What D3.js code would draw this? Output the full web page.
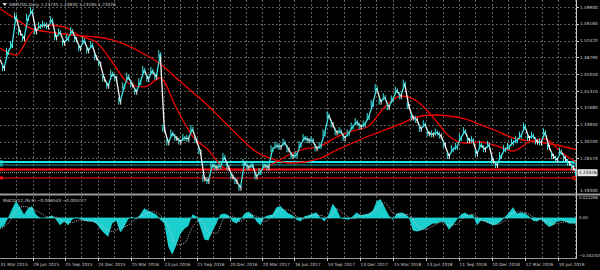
<!DOCTYPE html>
<html>
<head>
<meta charset="utf-8">
<script src="https://cdn.jsdelivr.net/npm/d3@7"></script>
<style>
  html, body { margin: 0; padding: 0; background: #000; }
  svg { display: block; }
  text { font-family: "DejaVu Sans", sans-serif; }
</style>
</head>
<body>
<div id="container"></div>
<script>
// first / last bar of the visible window
const startDate = Date.UTC(2015, 2, 31),
  endDate = Date.UTC(2019, 6, 29)

// closes, one every 11 days
const closes = [
  1.483, 1.464, 1.500, 1.515, 1.578, 1.543, 1.530, 1.575, 1.590, 1.545,
  1.557, 1.560, 1.556, 1.570, 1.532, 1.543, 1.520, 1.530, 1.546, 1.528,
  1.508, 1.525, 1.503, 1.515, 1.488, 1.474, 1.441, 1.425, 1.452, 1.442,
  1.390, 1.424, 1.445, 1.428, 1.412, 1.433, 1.460, 1.440, 1.458, 1.445,
  1.495, 1.330, 1.300, 1.320, 1.310, 1.302, 1.310, 1.308, 1.330, 1.305,
  1.280, 1.220, 1.215, 1.250, 1.245, 1.247, 1.268, 1.245, 1.225, 1.215,
  1.200, 1.255, 1.245, 1.250, 1.225, 1.235, 1.250, 1.245, 1.285, 1.293,
  1.290, 1.300, 1.285, 1.270, 1.272, 1.295, 1.310, 1.305, 1.305, 1.287,
  1.292, 1.320, 1.360, 1.340, 1.322, 1.325, 1.310, 1.320, 1.335, 1.345,
  1.335, 1.340, 1.356, 1.385, 1.420, 1.390, 1.400, 1.378, 1.395, 1.415,
  1.402, 1.430, 1.380, 1.355, 1.350, 1.330, 1.340, 1.320, 1.318, 1.322,
  1.315, 1.295, 1.270, 1.285, 1.290, 1.310, 1.325, 1.305, 1.305, 1.275,
  1.295, 1.285, 1.295, 1.260, 1.250, 1.270, 1.285, 1.290, 1.300, 1.305,
  1.315, 1.335, 1.310, 1.315, 1.302, 1.300, 1.322, 1.290, 1.270, 1.262,
  1.280, 1.265, 1.255, 1.245, 1.233
]

// moving averages, one every 44 days
const fastMA = [
  1.5085, 1.4931, 1.5439, 1.5593, 1.5549, 1.5350, 1.5218, 1.4776, 1.4313, 1.4225,
  1.4423, 1.3761, 1.3143, 1.2834, 1.2436, 1.2392, 1.2392, 1.2525, 1.2723, 1.2856,
  1.2922, 1.3121, 1.3253, 1.3364, 1.3783, 1.4026, 1.3915, 1.3562, 1.3143, 1.2988,
  1.3010, 1.2922, 1.2812, 1.3010, 1.3077, 1.2790, 1.2547
]
const slowMA = [
  1.5946, 1.5726, 1.5505, 1.5439, 1.5394, 1.5350, 1.5328, 1.5262, 1.5130, 1.4953,
  1.4732, 1.4423, 1.4114, 1.3805, 1.3452, 1.3099, 1.2790, 1.2635, 1.2547, 1.2569,
  1.2657, 1.2834, 1.2988, 1.3143, 1.3275, 1.3408, 1.3562, 1.3606, 1.3584, 1.3518,
  1.3386, 1.3253, 1.3099, 1.3033, 1.2988, 1.2922, 1.2834
]

// horizontal levels drawn on the chart
const levels = [1.2569, 1.2503, 1.2403, 1.2216]

// MACD main line, one every 11 days
const macd = [
  -0.011, -0.009, 0.000, 0.010, 0.019, 0.012, 0.004, 0.011, 0.013, 0.004,
  0.000, 0.000, 0.001, 0.003, -0.002, -0.008, -0.004, -0.008, -0.002, 0.001,
  -0.001, -0.003, -0.004, -0.004, -0.006, -0.012, -0.017, -0.021, -0.006, -0.003,
  -0.016, -0.010, -0.001, 0.001, -0.001, 0.004, 0.011, 0.008, 0.006, 0.004,
  -0.002, -0.006, -0.032, -0.041, -0.030, -0.018, -0.012, -0.009, 0.004, 0.002,
  -0.010, -0.024, -0.025, -0.015, -0.006, 0.004, 0.005, 0.003, -0.004, -0.006,
  -0.002, 0.005, 0.007, 0.004, -0.004, -0.008, 0.001, 0.003, 0.004, 0.012,
  0.013, 0.009, 0.005, 0.003, -0.002, -0.004, 0.002, 0.003, 0.005, 0.006,
  0.000, -0.004, 0.004, 0.016, 0.010, 0.000, -0.001, -0.002, 0.002, 0.006,
  0.003, 0.004, 0.005, 0.008, 0.019, 0.021, 0.012, 0.003, -0.002, 0.005,
  0.006, 0.005, 0.001, -0.014, -0.015, -0.014, -0.012, -0.009, -0.006, -0.006,
  -0.004, -0.005, -0.013, -0.008, -0.002, 0.004, 0.006, 0.003, 0.004, -0.008,
  -0.003, -0.004, -0.006, -0.008, -0.007, -0.004, 0.001, 0.006, 0.012, 0.005,
  0.006, 0.005, 0.002, -0.003, -0.004, -0.001, -0.006, -0.010, -0.008, -0.004,
  -0.003, -0.004, -0.006, -0.006, -0.0065
]
// MACD signal line, one every 22 days
const signal = [
  -0.012, -0.006, 0.008, 0.013, 0.010, 0.006, 0.001, 0.001, -0.004, -0.005,
  -0.002, -0.003, -0.005, -0.011, -0.015, -0.011, -0.008, -0.001, 0.004, 0.007,
  0.003, -0.010, -0.030, -0.028, -0.010, -0.002, -0.016, -0.017, 0.000, 0.002,
  -0.004, 0.003, 0.002, -0.004, 0.002, 0.009, 0.009, 0.002, -0.001, 0.003,
  0.003, 0.000, 0.010, 0.004, -0.001, 0.003, 0.004, 0.010, 0.017, 0.006,
  0.003, 0.004, -0.008, -0.013, -0.009, -0.005, -0.008, -0.007, 0.002, 0.004,
  -0.002, -0.005, -0.007, -0.003, 0.006, 0.007, 0.004, -0.001, -0.003, -0.007,
  -0.005, -0.004, -0.0057
]

const priceTicks = [1.59900, 1.56160, 1.52420, 1.48790, 1.45050, 1.41310, 1.37680, 1.33940, 1.30200, 1.26570]
const priceBottom = 1.19300
const macdTicks = [0.022286, 0, -0.042305]
const dateTicks = ['31 Mar 2015', '29 Jun 2015', '25 Sep 2015', '24 Dec 2015', '25 Mar 2016', '23 Jun 2016',
  '21 Sep 2016', '20 Dec 2016', '20 Mar 2017', '16 Jun 2017', '14 Sep 2017', '13 Dec 2017',
  '15 Mar 2018', '13 Jun 2018', '11 Sep 2018', '10 Dec 2018', '12 Mar 2019', '10 Jun 2019']
const symbol = 'GBPUSD,Daily',
  ohlc = [1.23745, 1.23830, 1.23195, 1.23326],
  macdName = 'MACD(12,26,9)',
  macdLast = [-0.006543, -0.005727]

const W = 600, H = 270, right = 576,
  main = { top: 0, bottom: 193 },
  sub = { top: 196, bottom: 258 },
  fs = 4.3,
  textCol = '#cfcfcf',
  gridCol = '#5e5e5e',
  upCol = '#3ee3e3',
  downCol = '#f2f2f2'

const day = 864e5,
  x = d3.scaleUtc().domain([startDate, endDate]).range([0, right]),
  y = d3.scaleLinear().domain([1.2657, 1.599]).range([158, 7]),
  ym = d3.scaleLinear().domain([-0.042305, 0.022286]).range([256, 198])

const at = (step) => (v, i) => ({ d: startDate + i * step * day, v })
const priceData = closes.map(at(11)),
  fastData = fastMA.map(at(44)),
  slowData = slowMA.map(at(44)),
  macdData = macd.map(at(11)),
  signalData = signal.map(at(22))

const svg = d3.select('#container')
  .append('svg')
    .attr('width', W)
    .attr('height', H)
svg.append('rect').attr('width', W).attr('height', H).attr('fill', '#000')

const defs = svg.append('defs')
defs.append('clipPath').attr('id', 'clipMain')
  .append('rect').attr('x', 0).attr('y', main.top).attr('width', right).attr('height', main.bottom - main.top)
defs.append('clipPath').attr('id', 'clipSub')
  .append('rect').attr('x', 0).attr('y', sub.top).attr('width', right).attr('height', sub.bottom - sub.top)

// grid
const parse = d3.utcParse('%d %b %Y'),
  tickX = dateTicks.map(s => x(parse(s))),
  half = (tickX[tickX.length - 1] - tickX[0]) / (tickX.length - 1) / 2,
  gridX = []
tickX.forEach(t => { gridX.push(t); gridX.push(t + half) })

const grid = svg.append('g')
  .attr('stroke', gridCol)
  .attr('stroke-width', 1)
  .attr('stroke-dasharray', '2,2')
grid.selectAll('line.v')
  .data(gridX.filter(v => v > 1 && v < right - 1))
  .enter()
  .append('line')
    .attr('x1', d => Math.round(d) + 0.5).attr('x2', d => Math.round(d) + 0.5)
    .attr('y1', main.top).attr('y2', main.bottom)
grid.selectAll('line.vs')
  .data(gridX.filter(v => v > 1 && v < right - 1))
  .enter()
  .append('line')
    .attr('x1', d => Math.round(d) + 0.5).attr('x2', d => Math.round(d) + 0.5)
    .attr('y1', sub.top).attr('y2', sub.bottom)
grid.selectAll('line.h')
  .data(priceTicks)
  .enter()
  .append('line')
    .attr('x1', 0).attr('x2', right)
    .attr('y1', d => Math.round(y(d)) + 0.5).attr('y2', d => Math.round(y(d)) + 0.5)

// levels
const levelCol = ['#1fe6e6', '#0c9c9c', '#ff1010', '#ff1010'],
  levelW = [2, 1, 2, 1.2]
const lv = svg.append('g').attr('clip-path', 'url(#clipMain)')
lv.selectAll('line')
  .data(levels)
  .enter()
  .append('line')
    .attr('x1', 0).attr('x2', right)
    .attr('y1', d => y(d)).attr('y2', d => y(d))
    .attr('stroke', (d, i) => levelCol[i])
    .attr('stroke-width', (d, i) => levelW[i])
lv.append('line')
  .attr('x1', 0).attr('x2', right)
  .attr('y1', y(ohlc[3])).attr('y2', y(ohlc[3]))
  .attr('stroke', '#a0a0a0')
  .attr('stroke-dasharray', '1,1')
lv.selectAll('rect.l')
  .data(levels)
  .enter()
  .append('rect')
    .attr('x', 0).attr('y', d => y(d) - 1.5)
    .attr('width', 3).attr('height', 3)
    .attr('fill', (d, i) => levelCol[i])
lv.selectAll('rect.r')
  .data(levels)
  .enter()
  .append('rect')
    .attr('x', right - 3).attr('y', d => y(d) - 1.5)
    .attr('width', 3).attr('height', 3)
    .attr('fill', 'none')
    .attr('stroke', (d, i) => levelCol[i])
    .attr('stroke-width', 0.8)

// moving averages
const maLine = d3.line().x(d => x(d.d)).y(d => y(d.v)).curve(d3.curveMonotoneX)
const ma = svg.append('g').attr('clip-path', 'url(#clipMain)')
;[slowData, fastData].forEach(s => {
  ma.append('path')
    .datum(s)
    .attr('d', maLine)
    .attr('fill', 'none')
    .attr('stroke', '#f00000')
    .attr('stroke-width', 1.3)
})

// price bars
const pg = svg.append('g').attr('clip-path', 'url(#clipMain)')
const segs = priceData.slice(1).map((d, i) => ({ a: priceData[i], b: d, up: d.v >= priceData[i].v }))
pg.selectAll('line.s')
  .data(segs)
  .enter()
  .append('line')
    .attr('x1', d => x(d.a.d)).attr('y1', d => y(d.a.v))
    .attr('x2', d => x(d.b.d)).attr('y2', d => y(d.b.v))
    .attr('stroke', d => d.up ? upCol : downCol)
    .attr('stroke-width', 1.3)
pg.selectAll('line.w')
  .data(segs)
  .enter()
  .append('line')
    .attr('x1', d => x(d.b.d) - 1.5).attr('x2', d => x(d.b.d) - 1.5)
    .attr('y1', d => y(d.b.v) - 4).attr('y2', d => y(d.b.v) + 3)
    .attr('stroke', upCol)
    .attr('stroke-width', 1)
pg.selectAll('line.w2')
  .data(segs)
  .enter()
  .append('line')
    .attr('x1', d => x(d.b.d) + 0.5).attr('x2', d => x(d.b.d) + 0.5)
    .attr('y1', d => y(d.b.v) - 2).attr('y2', d => y(d.b.v) + 3)
    .attr('stroke', d => d.up ? upCol : downCol)
    .attr('stroke-width', 1)

// MACD
const mg = svg.append('g').attr('clip-path', 'url(#clipSub)')
mg.append('path')
  .datum(macdData)
  .attr('d', d3.area().x(d => x(d.d)).y0(ym(0)).y1(d => ym(d.v)))
  .attr('fill', '#1ccfcf')
mg.append('line')
  .attr('x1', 0).attr('x2', right)
  .attr('y1', ym(0)).attr('y2', ym(0))
  .attr('stroke', '#1ccfcf')
  .attr('stroke-width', 0.8)
mg.append('path')
  .datum(signalData)
  .attr('d', d3.line().x(d => x(d.d)).y(d => ym(d.v)).curve(d3.curveMonotoneX))
  .attr('fill', 'none')
  .attr('stroke', '#c8c8c8')
  .attr('stroke-width', 0.9)
  .attr('stroke-dasharray', '1,1.2')

// frames
svg.append('rect')
  .attr('x', 0).attr('y', main.bottom + 0.5)
  .attr('width', W).attr('height', 2)
  .attr('fill', '#9a9a9a')
svg.append('line')
  .attr('x1', right + 0.5).attr('x2', right + 0.5)
  .attr('y1', 0).attr('y2', sub.bottom)
  .attr('stroke', '#c8c8c8')
svg.append('line')
  .attr('x1', 0).attr('x2', right + 1)
  .attr('y1', sub.bottom + 0.5).attr('y2', sub.bottom + 0.5)
  .attr('stroke', '#9a9a9a')

// right axis, price
const fmt5 = d3.format('.5f')
const ax = svg.append('g').attr('font-size', fs).attr('fill', textCol)
ax.selectAll('text.p')
  .data(priceTicks.concat([priceBottom]))
  .enter()
  .append('text')
    .attr('x', 580)
    .attr('y', d => y(d))
    .attr('dy', '0.35em')
    .text(d => fmt5(d))
ax.selectAll('line.t')
  .data(priceTicks)
  .enter()
  .append('line')
    .attr('x1', right).attr('x2', right + 3)
    .attr('y1', d => Math.round(y(d)) + 0.5).attr('y2', d => Math.round(y(d)) + 0.5)
    .attr('stroke', '#c8c8c8')

// current price box
svg.append('rect')
  .attr('x', 577.5).attr('y', y(ohlc[3]) - 3.5)
  .attr('width', 20).attr('height', 7)
  .attr('fill', '#e6e6e6')
svg.append('text')
  .attr('x', 579).attr('y', y(ohlc[3]))
  .attr('dy', '0.35em')
  .attr('font-size', fs)
  .attr('fill', '#000')
  .text(fmt5(ohlc[3]))

// right axis, MACD
ax.selectAll('text.m')
  .data(macdTicks)
  .enter()
  .append('text')
    .attr('x', 579)
    .attr('y', d => ym(d))
    .attr('dy', '0.35em')
    .attr('font-size', 4)
    .text(d => d === 0 ? '0.00' : d3.format('.6f')(d))

// time axis
const tx = svg.append('g').attr('font-size', fs).attr('fill', textCol)
tx.selectAll('text')
  .data(dateTicks)
  .enter()
  .append('text')
    .attr('x', d => x(parse(d)) + 0.5)
    .attr('y', 266)
    .text(d => d)
tx.selectAll('line')
  .data(dateTicks.slice(1))
  .enter()
  .append('line')
    .attr('x1', d => Math.round(x(parse(d))) + 0.5).attr('x2', d => Math.round(x(parse(d))) + 0.5)
    .attr('y1', sub.bottom).attr('y2', sub.bottom + 3)
    .attr('stroke', '#c8c8c8')

// titles
svg.append('path')
  .attr('d', 'M2.5,3 L7,3 L4.75,6 Z')
  .attr('fill', '#e0e0e0')
svg.append('text')
  .attr('x', 9).attr('y', 6)
  .attr('font-size', fs)
  .attr('fill', textCol)
  .text(`${symbol}  ${ohlc.map(fmt5).join(' ')}`)
svg.append('text')
  .attr('x', 3).attr('y', 202)
  .attr('font-size', fs)
  .attr('fill', textCol)
  .text(`${macdName} ${macdLast.map(d3.format('.6f')).join(' ')}`)
</script>
</body>
</html>
